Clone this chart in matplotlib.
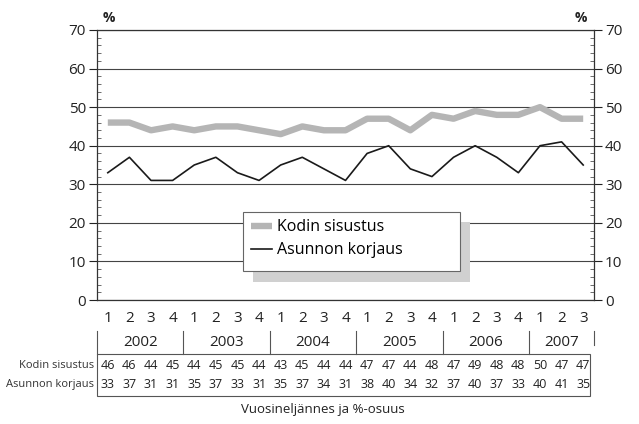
import matplotlib
matplotlib.use("Agg")
import matplotlib.pyplot as plt
from matplotlib.patches import Rectangle
from matplotlib.lines import Line2D
from matplotlib.transforms import blended_transform_factory

plt.rcParams['font.family'] = ['Open Sans', 'DejaVu Sans']
plt.rcParams['hatch.color'] = '#9a9a9a'

quarters = ['1', '2', '3', '4', '1', '2', '3', '4', '1', '2', '3', '4',
            '1', '2', '3', '4', '1', '2', '3', '4', '1', '2', '3']
years = ['2002', '2003', '2004', '2005', '2006', '2007']
year_counts = [4, 4, 4, 4, 4, 3]
kodin = [46, 46, 44, 45, 44, 45, 45, 44, 43, 45, 44, 44,
         47, 47, 44, 48, 47, 49, 48, 48, 50, 47, 47]
asunnon = [33, 37, 31, 31, 35, 37, 33, 31, 35, 37, 34, 31,
           38, 40, 34, 32, 37, 40, 37, 33, 40, 41, 35]
series_names = ['Kodin sisustus', 'Asunnon korjaus']
xlabel = 'Vuosineljännes ja %-osuus'

W, H = 639, 424
fig = plt.figure(figsize=(W / 100, H / 100), dpi=100)
L, R, T, B = 97, 594, 30, 300
ax = fig.add_axes([L / W, 1 - B / H, (R - L) / W, (B - T) / H])

x = list(range(len(kodin)))
ax.plot(x, kodin, color='#b5b5b5', lw=4.6, solid_capstyle='butt', zorder=3,
        label=series_names[0])
ax.plot(x, asunnon, color='#1a1a1a', lw=1.2, zorder=3, label=series_names[1])

ax.set_xlim(-0.5, len(kodin) - 0.5)
ax.set_ylim(0, 70)
ax.set_yticks(range(0, 71, 10))
ax.set_yticks(range(0, 71, 2), minor=True)
ax.set_xticks([])
ax.grid(axis='y', color='#444444', lw=0.8, zorder=1)
for s in ax.spines.values():
    s.set_color('#333333')
    s.set_linewidth(0.9)
ax.tick_params(axis='y', which='major', direction='out', length=6, width=0.8,
               labelsize=11, right=True, labelright=True, colors='#222222', pad=2)
ax.tick_params(axis='y', which='minor', direction='in', length=3, width=0.6,
               right=True, colors='#555555')
ax.text(0.012, 1.02, '%', transform=ax.transAxes, fontsize=10, ha='left', va='bottom',
        fontweight='bold', color='#222222')
ax.text(0.985, 1.02, '%', transform=ax.transAxes, fontsize=10, ha='right', va='bottom',
        fontweight='bold', color='#222222')


def ay(p):
    return (B - p) / (B - T)


def axx(p):
    return (p - L) / (R - L)


bt = blended_transform_factory(ax.transData, ax.transAxes)
at = ax.transAxes

# quarter labels
for i, q in enumerate(quarters):
    ax.text(i, ay(318), q, transform=bt, ha='center', va='center', fontsize=11,
            color='#222222')

# year labels and separators
start = 0
n = len(kodin)
for yr, c in zip(years, year_counts):
    ax.text(start + (c - 1) / 2, ay(343), yr, transform=bt, ha='center', va='center',
            fontsize=11, color='#222222')
    ax.add_line(Line2D([start - 0.5, start - 0.5], [ay(331), ay(354)], transform=bt,
                       color='#555555', lw=0.8, clip_on=False))
    start += c
ax.add_line(Line2D([n - 0.5, n - 0.5], [ay(331), ay(345)], transform=bt,
                   color='#555555', lw=0.8, clip_on=False))

# table
ax.add_patch(Rectangle((axx(97), ay(396)), axx(590) - axx(97), ay(354) - ay(396),
                       transform=at, fill=False, ec='#555555', lw=0.8, clip_on=False))
rows = [kodin, asunnon]
row_y = [365.5, 385]
for name, vals, py in zip(series_names, rows, row_y):
    ax.text(axx(94), ay(py), name, transform=at, ha='right', va='center', fontsize=8,
            color='#333333')
    for i, v in enumerate(vals):
        ax.text(i, ay(py), str(v), transform=bt, ha='center', va='center', fontsize=9,
                color='#222222')

ax.text(axx(323), ay(410), xlabel, transform=at, ha='center', va='center', fontsize=9.5,
        color='#222222')

# legend box with shadow
ax.add_patch(Rectangle((axx(253), ay(282)), axx(470) - axx(253), ay(222) - ay(282),
                       transform=at, facecolor='#d0d0d0', edgecolor='none', hatch='.....',
                       lw=0, zorder=4, clip_on=False))
ax.add_patch(Rectangle((axx(243), ay(271)), axx(460) - axx(243), ay(212) - ay(271),
                       transform=at, facecolor='white', edgecolor='#666666', lw=0.8,
                       zorder=5, clip_on=False))
leg = ax.legend(loc='upper left', bbox_to_anchor=(axx(240), ay(208)), frameon=False,
                fontsize=11.5, handlelength=1.3, handletextpad=0.3, labelspacing=0.45,
                borderpad=0.2)
leg.set_zorder(6)

fig.savefig('out.png', dpi=100)
